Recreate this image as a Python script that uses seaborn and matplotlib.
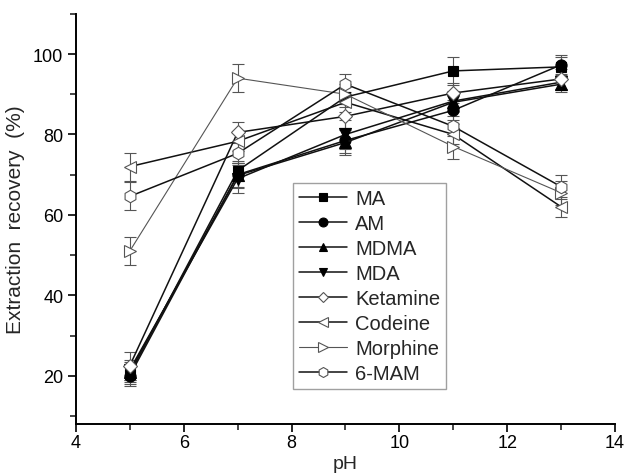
import matplotlib
matplotlib.use("Agg")
import matplotlib.pyplot as plt
import seaborn as sns
import pandas as pd
from matplotlib.ticker import MultipleLocator

sns.set_theme(style="white")
plt.rcParams['font.family'] = ['Liberation Sans', 'DejaVu Sans']

ph = [5, 7, 9, 11, 13]
names = ["MA", "AM", "MDMA", "MDA", "Ketamine", "Codeine", "Morphine", "6-MAM"]
ma = [20.5, 71.0, 89.3, 95.8, 96.8]
am = [20.0, 70.0, 78.5, 86.0, 97.3]
mdma = [21.0, 69.8, 78.0, 88.0, 92.5]
mda = [21.5, 69.0, 80.0, 88.3, 93.0]
ketamine = [22.5, 80.5, 84.5, 90.3, 93.8]
codeine = [72.0, 78.3, 88.0, 80.0, 62.0]
morphine = [51.0, 94.0, 90.0, 77.0, 65.5]
mam6 = [64.6, 75.3, 92.5, 82.0, 67.0]
ma_err = [2.5, 2.5, 2.5, 3.5, 2.5]
am_err = [2.5, 3.0, 3.0, 2.5, 2.5]
mdma_err = [2.5, 3.0, 3.0, 2.5, 2.0]
mda_err = [2.5, 3.5, 3.5, 2.5, 2.0]
ketamine_err = [3.5, 2.5, 3.0, 2.5, 2.5]
codeine_err = [3.5, 2.5, 2.5, 2.5, 2.5]
morphine_err = [3.5, 3.5, 2.5, 3.0, 3.0]
mam6_err = [3.5, 2.5, 2.5, 2.5, 3.0]

values = [ma, am, mdma, mda, ketamine, codeine, morphine, mam6]
errs = [ma_err, am_err, mdma_err, mda_err, ketamine_err, codeine_err, morphine_err, mam6_err]
markers = ["s", "o", "^", "v", "D", "<", ">", "h"]
filled = [True, True, True, True, False, False, False, False]
msizes = [7, 8, 8, 8, 7, 9, 9, 9]

fig = plt.figure(figsize=(6.27, 4.77), dpi=100)
ax = fig.add_axes([0.121, 0.109, 0.860, 0.860])

for name, v, e, m, f, ms in zip(names, values, errs, markers, filled, msizes):
    df = pd.DataFrame({"pH": ph, "rec": v})
    lw = 0.8 if name == "Morphine" else 1.1
    lc = "#555555" if name == "Morphine" else "#111111"
    ax.errorbar(ph, v, yerr=e, fmt="none", ecolor="#555555", elinewidth=0.8,
                capsize=4, capthick=0.8, zorder=2)
    sns.lineplot(data=df, x="pH", y="rec", ax=ax, color=lc, linewidth=lw,
                 marker=m, markersize=ms,
                 markerfacecolor="black" if f else "white",
                 markeredgecolor="black" if f else "#555555",
                 markeredgewidth=0.8, label=name, zorder=3)

ax.set_xlim(4, 14)
ax.set_ylim(8, 110)
ax.xaxis.set_major_locator(MultipleLocator(2))
ax.xaxis.set_minor_locator(MultipleLocator(1))
ax.yaxis.set_minor_locator(MultipleLocator(10))
ax.set_yticks([20, 40, 60, 80, 100])
ax.tick_params(which="major", direction="out", length=6, width=1.2, labelsize=13,
               left=True, bottom=True, colors="black", pad=3)
ax.tick_params(axis="x", which="major", pad=1)
ax.tick_params(which="minor", direction="out", length=4, width=1.2, left=True, bottom=True)
for s in ["top", "right"]:
    ax.spines[s].set_visible(False)
for s in ["left", "bottom"]:
    ax.spines[s].set_color("black")
    ax.spines[s].set_linewidth(1.4)

ax.set_xlabel("pH", fontsize=14, labelpad=3)
ax.set_ylabel("Extraction  recovery  (%)", fontsize=15, labelpad=6)

leg = ax.legend(loc="upper left", bbox_to_anchor=(0.402, 0.588), fontsize=14.5,
                frameon=True, fancybox=False, handlelength=2.4, labelspacing=0.3,
                handletextpad=0.4, borderpad=0.3, borderaxespad=0, markerscale=0.8)
leg.get_frame().set_edgecolor("#888888")
leg.get_frame().set_linewidth(1.0)

fig.savefig("out.png", dpi=100)
